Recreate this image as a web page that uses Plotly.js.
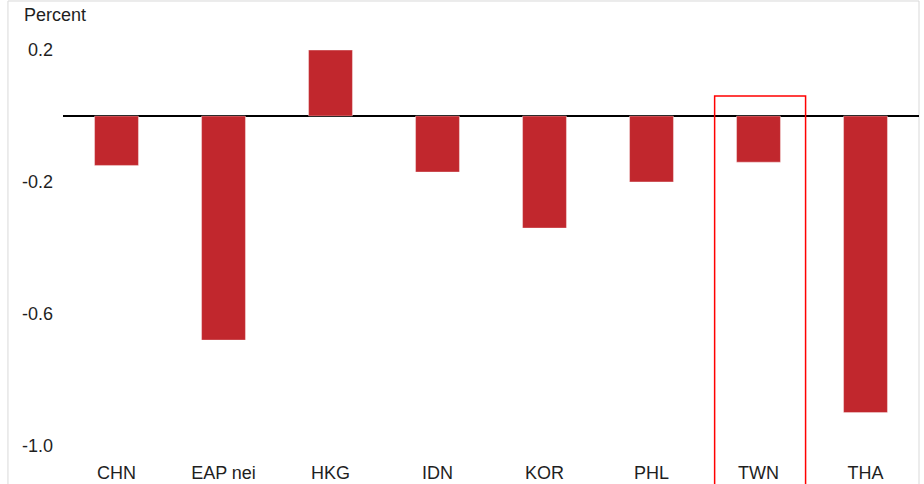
<!DOCTYPE html>
<html>
<head>
<meta charset="utf-8">
<script src="https://cdn.plot.ly/plotly-3.0.1.min.js"></script>
<style>html,body{margin:0;padding:0;background:#fff;}#chart{width:924px;height:484px;}</style>
</head>
<body>
<div id="chart"></div>
<script>
const categories = ["CHN", "EAP nei", "HKG", "IDN", "KOR", "PHL", "TWN", "THA"];
const values = [-0.15, -0.68, 0.20, -0.17, -0.34, -0.20, -0.14, -0.90];
const yTickVals = [0.2, -0.2, -0.6, -1.0];
const yTickText = ["0.2", "-0.2", "-0.6", "-1.0"];
const highlighted = "TWN";

const hi = categories.indexOf(highlighted);
const font = {family: "Liberation Sans, Arial, sans-serif", size: 18, color: "#1f1f1f"};

const trace = {
  type: "bar",
  x: categories,
  y: values,
  width: 0.41,
  marker: {color: "#C1272D", line: {color: "rgba(255,255,255,0.35)", width: 1}},
  hoverinfo: "x+y"
};

const layout = {
  width: 924,
  height: 484,
  margin: {l: 63, r: 5, t: 30, b: 0},
  paper_bgcolor: "#ffffff",
  plot_bgcolor: "#ffffff",
  font: font,
  showlegend: false,
  bargap: 0.59,
  xaxis: {
    type: "category",
    showgrid: false,
    showline: false,
    zeroline: false,
    ticks: "",
    ticklabelposition: "inside",
    ticklabelstandoff: -2,
    tickfont: font,
    fixedrange: true
  },
  yaxis: {
    range: [-1.1168, 0.261],
    tickvals: yTickVals,
    ticktext: yTickText,
    showgrid: false,
    showline: false,
    zeroline: true,
    zerolinecolor: "#000000",
    zerolinewidth: 1.5,
    ticks: "",
    ticklabelstandoff: 9,
    tickfont: font,
    fixedrange: true
  },
  shapes: [
    {
      type: "rect", xref: "paper", yref: "paper",
      x0: -0.0643, x1: 1.0, y0: -0.05, y1: 1.0639,
      line: {color: "#d9d9d9", width: 1}, fillcolor: "rgba(0,0,0,0)", layer: "below"
    },
    {
      type: "rect", xref: "x", yref: "y",
      x0: hi - 0.41, x1: hi + 0.44, y0: -1.3, y1: 0.061,
      line: {color: "#FF0000", width: 1.5}, fillcolor: "rgba(0,0,0,0)"
    }
  ],
  annotations: [
    {
      text: "Percent", xref: "paper", yref: "paper",
      x: -0.0482, y: 1.033, xanchor: "left", yanchor: "middle",
      showarrow: false, font: font
    }
  ]
};

Plotly.newPlot("chart", [trace], layout, {displayModeBar: false, staticPlot: true});
</script>
</body>
</html>
